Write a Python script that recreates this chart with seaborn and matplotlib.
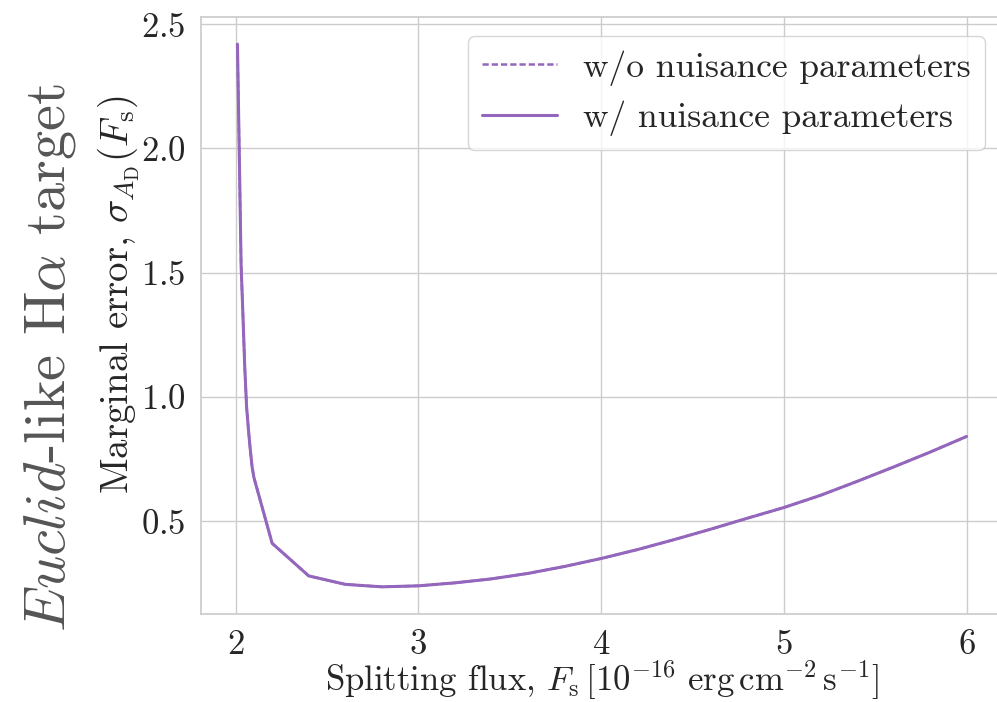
import matplotlib
matplotlib.use("Agg")
import matplotlib.pyplot as plt
import numpy as np
import pandas as pd
import seaborn as sns

# Splitting flux grid [1e-16 erg cm^-2 s^-1]
flux = [2.01, 2.02, 2.03, 2.04, 2.05, 2.06, 2.07, 2.08, 2.09, 2.10,
        2.2, 2.4, 2.6, 2.8, 3.0, 3.2, 3.4, 3.6, 3.8, 4.0,
        4.2, 4.4, 4.6, 4.8, 5.0, 5.2, 5.4, 5.6, 5.8, 6.0]

# Marginal error on A_D without nuisance parameters
sigma_no_nuis = [2.42, 1.98, 1.53, 1.33, 1.12, 0.96, 0.87, 0.79, 0.72, 0.676,
                 0.411, 0.280, 0.246, 0.236, 0.240, 0.252, 0.268, 0.290, 0.318, 0.350,
                 0.386, 0.426, 0.468, 0.512, 0.555, 0.604, 0.660, 0.718, 0.778, 0.841]

# Marginal error on A_D with nuisance parameters
sigma_nuis = [2.42, 1.98, 1.53, 1.33, 1.12, 0.96, 0.87, 0.79, 0.72, 0.676,
              0.411, 0.280, 0.246, 0.236, 0.240, 0.252, 0.268, 0.290, 0.318, 0.350,
              0.386, 0.426, 0.468, 0.512, 0.555, 0.604, 0.660, 0.718, 0.778, 0.841]

label_no_nuis = "w/o nuisance parameters"
label_nuis = "w/ nuisance parameters"
xticks = [2, 3, 4, 5, 6]
yticks = [0.5, 1.0, 1.5, 2.0, 2.5]

sns.set_theme(style="whitegrid")
plt.rcParams["font.family"] = "serif"
plt.rcParams["font.serif"] = ["cmr10"]
plt.rcParams["mathtext.fontset"] = "cm"
plt.rcParams["axes.formatter.use_mathtext"] = True

purple = "#9467bd"
ink = "#262626"

fig = plt.figure(figsize=(9.97, 7.02), dpi=100)
ax = fig.add_axes([0.2016, 0.1254, 0.8044, 0.8504])

df_a = pd.DataFrame({"flux": flux, "sigma": sigma_no_nuis})
df_b = pd.DataFrame({"flux": flux, "sigma": sigma_nuis})

sns.lineplot(data=df_a, x="flux", y="sigma", ax=ax, color=purple,
             linewidth=1.8, label=label_no_nuis, zorder=2)
ax.lines[-1].set_dashes((2.5, 1.2))
sns.lineplot(data=df_b, x="flux", y="sigma", ax=ax, color=purple,
             linewidth=2.2, label=label_nuis, zorder=3)

ax.set_xticks(xticks)
ax.set_yticks(yticks)
ax.tick_params(axis="both", labelsize=25, colors=ink, pad=5)
ax.set_xlabel(r"Splitting flux, $F_{\rm s}\,[10^{-16}\ {\rm erg\,cm^{-2}\,s^{-1}}]$",
              fontsize=25, color=ink, labelpad=-2)
ax.set_ylabel(r"Marginal error, $\sigma_{A_{\rm D}}(F_{\rm s})$",
              fontsize=28, color=ink)
ax.yaxis.set_label_coords(-0.073, 0.535)

leg = ax.legend(loc="upper right", fontsize=25.5, handlelength=2.1,
                handletextpad=0.75, borderpad=0.4, labelspacing=0.42,
                borderaxespad=0, bbox_to_anchor=(0.9776, 0.968))
for t in leg.get_texts():
    t.set_color(ink)

fig.text(0.05, 0.49, r"$\mathit{Euclid}$-like H$\alpha$ target", rotation=90,
         ha="center", va="center", fontsize=42, color="#555555")

fig.savefig("out.png", dpi=100)
